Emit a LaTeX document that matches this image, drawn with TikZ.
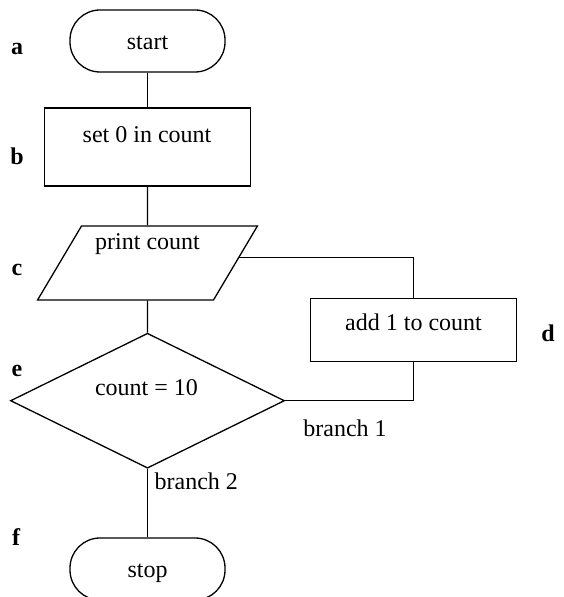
\documentclass[tikz,border=0pt]{standalone}
\usepackage{fontspec}
\setmainfont{Liberation Serif}
\usetikzlibrary{shapes.geometric,calc}

\begin{document}
\begin{tikzpicture}[x=0.5pt,y=-0.5pt,line width=0.65pt,font=\fontsize{12}{14}\selectfont,
    term/.style={draw,rounded corners=15pt,minimum width=77.5pt,minimum height=31pt},
    proc/.style={draw,inner sep=0pt},
    io/.style={draw,trapezium,trapezium left angle=59.3,trapezium right angle=120.7,
        inner sep=0pt,text width=66pt,align=flush center,text height=12pt,text depth=25pt},
    test/.style={draw,diamond,minimum width=137pt,minimum height=67.5pt,inner sep=0pt},
    txt/.style={anchor=base,inner sep=0pt},
    lbl/.style={anchor=base,inner sep=0pt,font=\fontsize{12}{14}\selectfont\bfseries}]
        \useasboundingbox (0,0) rectangle (563,597);
        \node[term] (start) at (147.5,41) {};
        \node[proc,minimum width=103pt,minimum height=39pt] (setzero) at (147.5,147) {};
        \node[io] (print) at (147.5,263) {print count};
        \node[proc,minimum width=103pt,minimum height=31.7pt] (add) at (413.7,330) {};
        \node[test] (count) at (147.5,400.7) {};
        \node[term] (stop) at (147.5,569) {};
        \node[txt] (start-t) at (147.5,50) {start};
        \node[txt] (setzero-t) at (147,143) {set 0 in count};
        \node[txt] (add-t) at (413.5,331) {add 1 to count};
        \node[txt] (count-t) at (146.5,395) {count = 10};
        \node[txt] (stop-t) at (147.5,577) {stop};
        \node[txt] (br1) at (345,436) {branch 1};
        \node[txt,anchor=base west] (br2) at (154,489) {branch 2};
        \foreach \l/\x/\y in {a/17/55, b/17/165, c/17/276, d/548/342, e/17/376, f/16/545}{
            \node[lbl] (lbl-\l) at (\x,\y) {\l};
        }
        \draw (start.south) -- (setzero.north);
        \draw (setzero.south) -- (print.north);
        \draw (print.south) -- (count.north);
        \draw (count.south) -- (stop.north);
        \draw ($(print.top right corner)!0.43!(print.bottom right corner)$) -| (add.north);
        \draw (add.south) |- (count.east);
    \end{tikzpicture}
\end{document}
